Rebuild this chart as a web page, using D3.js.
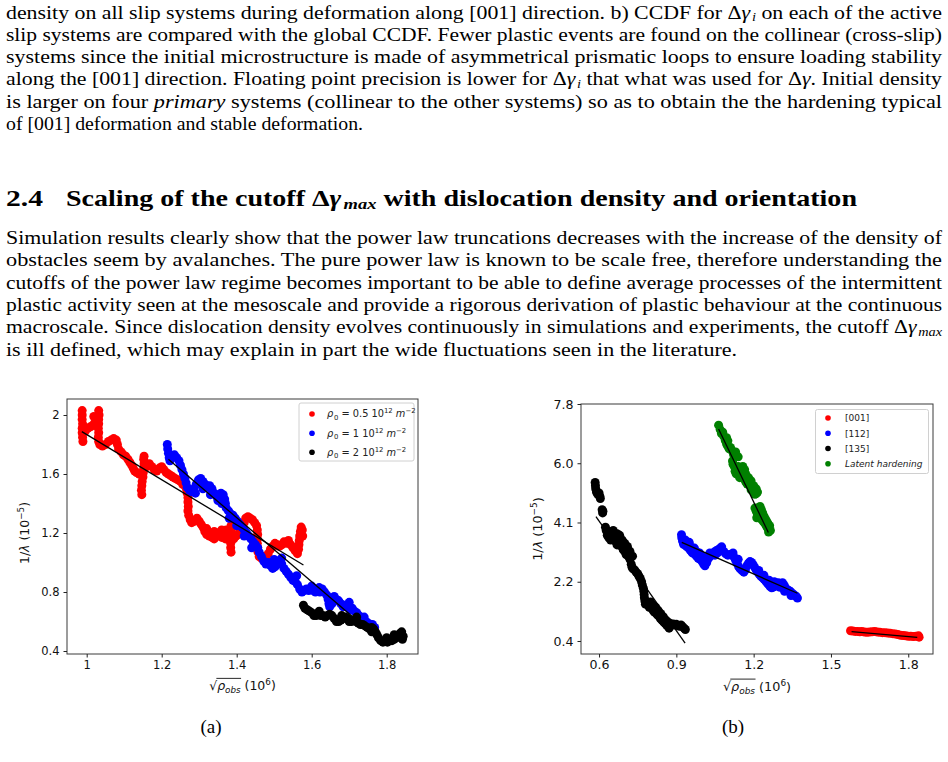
<!DOCTYPE html>
<html><head><meta charset="utf-8">
<script src="https://cdn.jsdelivr.net/npm/d3@7"></script>
<style>body{margin:0;background:#fff}svg{display:block}</style>
</head><body>
<svg id="page" width="948" height="762"></svg>
<script>
// ---------------- TEXT ----------------
const para1Lines = [
  "density on all slip systems during deformation along [001] direction. b) CCDF for Δ<i>γ</i><sub><i>i</i></sub> on each of the active",
  "slip systems are compared with the global CCDF. Fewer plastic events are found on the collinear (cross-slip)",
  "systems since the initial microstructure is made of asymmetrical prismatic loops to ensure loading stability",
  "along the [001] direction. Floating point precision is lower for Δ<i>γ</i><sub><i>i</i></sub> that what was used for Δ<i>γ</i>. Initial density",
  "is larger on four <i>primary</i> systems (collinear to the other systems) so as to obtain the the hardening typical",
  "of [001] deformation and stable deformation."
];
const headingNumber = "2.4";
const headingText = "Scaling of the cutoff Δ<i>γ</i><sub><i>max</i></sub> with dislocation density and orientation";
const para2Lines = [
  "Simulation results clearly show that the power law truncations decreases with the increase of the density of",
  "obstacles seem by avalanches. The pure power law is known to be scale free, therefore understanding the",
  "cutoffs of the power law regime becomes important to be able to define average processes of the intermittent",
  "plastic activity seen at the mesoscale and provide a rigorous derivation of plastic behaviour at the continuous",
  "macroscale. Since dislocation density evolves continuously in simulations and experiments, the cutoff Δ<i>γ</i><sub><i>max</i></sub>",
  "is ill defined, which may explain in part the wide fluctuations seen in the literature."
];
const captions = ["(a)", "(b)"];

// ---------------- CHART (a) DATA ----------------
const leftLegend = [
  "<i>ρ</i><sub>0</sub> = 0.5 10<sup>12</sup> <i>m</i><sup>−2</sup>",
  "<i>ρ</i><sub>0</sub> = 1 10<sup>12</sup> <i>m</i><sup>−2</sup>",
  "<i>ρ</i><sub>0</sub> = 2 10<sup>12</sup> <i>m</i><sup>−2</sup>"
];
const leftXTicks = [1, 1.2, 1.4, 1.6, 1.8];
const leftXTickLabels = ["1", "1.2", "1.4", "1.6", "1.8"];
const leftYTicks = [0.4, 0.8, 1.2, 1.6, 2.0];
const leftYTickLabels = ["0.4", "0.8", "1.2", "1.6", "2"];

const leftRed = [
 [0.988,2.03],[0.988,2.00],[0.988,1.97],[0.989,1.94],[0.988,1.91],[0.988,1.88],[0.989,1.85],[0.99,1.82],
 [0.996,1.89],[1.003,1.91],[1.01,1.92],[1.016,1.93],[1.022,1.95],[1.026,1.97],[1.019,1.99],
 [1.032,2.03],[1.033,2.00],[1.032,1.97],[1.032,1.94],[1.031,1.91],[1.032,1.88],[1.031,1.85],[1.032,1.82],
 [1.035,1.80],[1.042,1.79],[1.05,1.80],[1.058,1.82],[1.065,1.83],[1.072,1.84],[1.079,1.83],[1.082,1.80],
 [1.085,1.77],[1.092,1.75],[1.098,1.73],[1.104,1.72],[1.11,1.70],[1.115,1.68],[1.12,1.66],[1.124,1.64],[1.128,1.62],[1.133,1.61],[1.14,1.60],
 [1.147,1.46],[1.146,1.49],[1.147,1.52],[1.148,1.55],[1.15,1.58],[1.151,1.61],[1.152,1.64],[1.153,1.67],[1.152,1.70],[1.153,1.72],
 [1.16,1.65],[1.167,1.67],[1.174,1.65],[1.18,1.63],[1.187,1.62],[1.194,1.64],[1.20,1.65],[1.206,1.63],[1.212,1.61],[1.218,1.60],
 [1.224,1.59],[1.23,1.58],[1.236,1.57],[1.243,1.56],[1.25,1.55],[1.256,1.53],[1.262,1.52],[1.266,1.50],
 [1.268,1.47],[1.27,1.44],[1.27,1.41],[1.271,1.38],[1.27,1.35],
 [1.272,1.32],[1.276,1.29],[1.28,1.27],[1.287,1.28],[1.294,1.30],[1.30,1.28],[1.305,1.26],[1.31,1.24],[1.315,1.21],[1.32,1.19],
 [1.327,1.18],[1.334,1.17],[1.34,1.16],[1.347,1.18],[1.353,1.20],[1.36,1.22],[1.366,1.21],[1.372,1.22],[1.378,1.21],
 [1.32,1.23],[1.34,1.21],[1.36,1.17],[1.37,1.16],
 [1.385,1.25],[1.386,1.22],[1.386,1.19],[1.385,1.16],[1.384,1.13],[1.384,1.10],[1.385,1.07],
 [1.392,1.16],[1.398,1.18],[1.404,1.19],[1.41,1.21],[1.415,1.24],[1.42,1.27],[1.424,1.30],[1.43,1.31],[1.436,1.30],[1.442,1.29],[1.448,1.27],[1.453,1.25],
 [1.455,1.22],[1.456,1.19],[1.455,1.16],[1.455,1.13],[1.456,1.10],[1.457,1.07],[1.46,1.04],
 [1.466,1.03],[1.472,1.04],[1.478,1.03],[1.484,1.06],[1.49,1.09],[1.496,1.11],[1.502,1.13],[1.508,1.12],[1.514,1.11],[1.52,1.12],
 [1.526,1.14],[1.532,1.13],[1.538,1.15],[1.544,1.12],[1.55,1.10],[1.556,1.08],
 [1.562,1.06],[1.565,1.09],[1.566,1.12],[1.567,1.15],[1.568,1.18],[1.57,1.21],[1.572,1.24],[1.575,1.22],[1.576,1.18]
];
const leftBlue = [
 [1.215,1.80],[1.216,1.77],[1.218,1.74],[1.22,1.71],[1.222,1.69],
 [1.228,1.72],[1.234,1.73],[1.24,1.71],[1.246,1.69],[1.25,1.66],[1.254,1.63],[1.258,1.60],[1.262,1.57],[1.265,1.54],[1.268,1.51],
 [1.274,1.49],[1.28,1.48],[1.286,1.50],[1.292,1.53],[1.298,1.56],[1.304,1.57],[1.31,1.55],[1.316,1.53],[1.322,1.51],[1.328,1.52],
 [1.334,1.50],[1.34,1.47],[1.346,1.45],[1.352,1.46],[1.358,1.47],[1.364,1.46],
 [1.29,1.47],[1.31,1.50],[1.33,1.46],[1.35,1.42],[1.36,1.40],
 [1.368,1.43],[1.37,1.40],[1.372,1.37],
 [1.378,1.35],[1.384,1.33],[1.39,1.32],[1.396,1.30],[1.402,1.28],[1.408,1.26],[1.414,1.24],[1.42,1.22],[1.426,1.20],[1.432,1.18],
 [1.438,1.16],[1.444,1.14],[1.45,1.12],[1.456,1.10],
 [1.38,1.30],[1.40,1.25],[1.42,1.18],[1.44,1.10],
 [1.46,1.07],[1.466,1.04],[1.472,1.01],[1.478,0.99],[1.484,1.00],[1.49,0.98],[1.496,0.96],[1.502,0.97],[1.508,0.99],[1.514,1.01],
 [1.52,0.99],[1.526,0.96],[1.532,0.94],[1.538,0.92],
 [1.50,1.02],[1.52,1.03],
 [1.544,0.90],[1.55,0.88],[1.556,0.87],[1.562,0.85],[1.568,0.82],[1.574,0.80],
 [1.58,0.81],[1.586,0.82],[1.592,0.81],[1.598,0.82],[1.604,0.81],[1.61,0.80],[1.616,0.81],[1.622,0.80],[1.628,0.82],[1.634,0.80],[1.64,0.78],
 [1.56,0.91],[1.60,0.84],[1.62,0.83],
 [1.644,0.75],[1.646,0.72],[1.648,0.70],
 [1.654,0.72],[1.66,0.74],[1.666,0.75],[1.672,0.74],[1.678,0.72],[1.684,0.70],[1.69,0.71],[1.696,0.70],[1.702,0.68],[1.708,0.69],[1.714,0.67],[1.72,0.66],
 [1.66,0.77],[1.70,0.73],
 [1.726,0.64],[1.732,0.62],[1.738,0.61],[1.744,0.60],[1.75,0.59],[1.756,0.58],[1.762,0.58],[1.768,0.56],[1.74,0.63]
];
const leftBlack = [
 [1.578,0.71],[1.582,0.69],[1.588,0.68],[1.594,0.67],[1.60,0.66],[1.606,0.64],[1.612,0.64],[1.618,0.65],[1.624,0.64],[1.63,0.64],
 [1.636,0.63],[1.642,0.64],[1.648,0.65],[1.654,0.64],[1.66,0.62],[1.666,0.60],[1.672,0.60],[1.678,0.61],[1.684,0.62],[1.69,0.63],
 [1.696,0.62],[1.70,0.60],[1.706,0.60],[1.712,0.61],[1.718,0.60],[1.724,0.59],[1.73,0.58],[1.736,0.58],[1.742,0.57],[1.748,0.56],
 [1.754,0.55],[1.76,0.56],[1.765,0.55],[1.77,0.53],[1.774,0.51],[1.778,0.49],[1.784,0.47],[1.79,0.46],[1.796,0.47],[1.802,0.46],
 [1.808,0.47],[1.814,0.47],[1.82,0.48],[1.826,0.49],[1.832,0.50],[1.836,0.52],[1.84,0.53],[1.844,0.50],[1.842,0.48],
 [1.62,0.67],[1.68,0.64],[1.72,0.63],[1.76,0.53],[1.80,0.49],[1.82,0.51]
];
const leftRedFit = [[0.987,1.887],[1.578,0.983]];
const leftBlueFit = [[1.218,1.70],[1.77,0.50]];

// ---------------- CHART (b) DATA ----------------
const rightLegend = ["[001]", "[112]", "[135]", "<i>Latent hardening</i>"];
const rightXTicks = [0.6, 0.9, 1.2, 1.5, 1.8];
const rightXTickLabels = ["0.6", "0.9", "1.2", "1.5", "1.8"];
const rightYTicks = [0.4, 2.25, 4.1, 5.95, 7.8];
const rightYTickLabels = ["0.4", "2.2", "4.1", "6.0", "7.8"];

const right001 = [
 [1.576,0.72],[1.585,0.71],[1.594,0.70],[1.603,0.70],[1.612,0.69],[1.62,0.70],[1.63,0.68],[1.64,0.67],[1.65,0.68],[1.66,0.69],
 [1.67,0.70],[1.68,0.68],[1.69,0.67],[1.70,0.66],[1.71,0.66],[1.72,0.65],[1.73,0.64],[1.74,0.63],[1.75,0.62],[1.76,0.60],
 [1.77,0.58],[1.78,0.57],[1.79,0.56],[1.80,0.55],[1.81,0.55],[1.82,0.54],[1.83,0.55],[1.84,0.56],[1.842,0.52]
];
const right112 = [
 [0.92,3.72],[0.921,3.62],[0.924,3.52],[0.928,3.42],[0.933,3.40],[0.94,3.35],[0.945,3.42],[0.948,3.30],[0.955,3.22],[0.96,3.32],
 [0.962,3.15],[0.97,3.12],[0.978,3.05],[0.98,3.18],[0.985,2.98],[0.992,2.95],[1.0,2.88],[1.0,3.05],[1.006,2.80],[1.011,2.75],
 [1.018,2.85],[1.025,2.98],[1.032,3.05],[1.04,3.12],[1.048,3.18],[1.055,3.22],[1.062,3.25],[1.07,3.30],[1.076,3.34],
 [1.084,3.20],[1.092,3.12],[1.1,3.08],[1.108,3.10],[1.116,3.08],[1.124,3.02],[1.13,2.92],[1.136,2.82],[1.142,2.72],[1.148,2.65],
 [1.155,2.60],[1.162,2.55],[1.168,2.62],[1.174,2.75],[1.18,2.83],[1.186,2.88],[1.192,2.85],[1.198,2.78],[1.204,2.70],[1.21,2.62],
 [1.216,2.55],[1.222,2.48],[1.228,2.42],[1.234,2.38],[1.24,2.33],[1.246,2.28],[1.252,2.22],[1.258,2.16],[1.264,2.10],[1.27,2.06],
 [1.276,2.08],[1.282,2.12],[1.288,2.18],[1.294,2.22],[1.30,2.20],[1.306,2.15],[1.312,2.22],[1.318,2.15],[1.324,2.06],[1.33,2.0],
 [1.336,1.98],[1.342,1.95],[1.348,1.90],[1.354,1.86],[1.36,1.82],[1.366,1.78],[1.37,1.74],
 [0.935,3.55],[0.95,3.48],[0.97,3.30],[0.99,3.15],[1.03,3.15],[1.05,3.08],[1.06,3.15],[1.12,3.15],[1.14,2.95],[1.22,2.60],
 [1.24,2.45],[1.26,2.30],[1.28,2.25],[1.30,2.08],[1.32,1.95],[1.345,1.82]
];
const right135 = [
 [0.585,5.35],[0.586,5.25],[0.587,5.15],[0.59,5.05],[0.595,4.98],[0.60,5.02],[0.603,4.92],[0.605,4.85],
 [0.612,4.50],[0.614,4.40],[0.615,4.45],
 [0.625,3.95],[0.628,3.85],[0.632,3.70],[0.638,3.62],[0.645,3.55],[0.65,3.62],[0.656,3.70],[0.66,3.60],[0.665,3.50],[0.67,3.40],
 [0.675,3.55],[0.68,3.60],[0.685,3.45],[0.69,3.35],[0.694,3.25],[0.698,3.30],[0.70,3.20],[0.705,3.10],[0.71,3.15],[0.715,3.05],[0.72,2.95],
 [0.64,3.80],[0.655,3.85],[0.67,3.75],[0.68,3.70],[0.69,3.55],[0.70,3.45],[0.71,3.35],[0.72,3.20],[0.73,3.05],
 [0.725,2.80],[0.728,2.70],[0.732,2.65],[0.738,2.62],[0.744,2.55],[0.75,2.50],[0.755,2.42],[0.76,2.35],[0.765,2.25],[0.768,2.15],
 [0.772,2.05],[0.774,1.95],[0.775,1.85],[0.776,1.75],[0.778,1.65],[0.78,1.55],[0.786,1.62],[0.79,1.52],[0.795,1.45],[0.80,1.50],
 [0.805,1.42],[0.81,1.35],[0.815,1.30],[0.82,1.28],[0.826,1.22],[0.832,1.18],[0.838,1.10],[0.844,1.05],[0.85,1.00],[0.856,0.95],
 [0.862,0.90],[0.868,0.85],[0.872,0.80],[0.876,0.88],[0.882,0.92],[0.888,0.93],[0.894,0.90],[0.90,0.92],[0.906,0.88],[0.912,0.86],
 [0.918,0.90],[0.924,0.85],[0.93,0.80],[0.935,0.76],
 [0.80,1.62],[0.81,1.52],[0.82,1.45],[0.83,1.35],[0.84,1.25],[0.85,1.15],[0.86,1.05],[0.87,0.98]
];
const rightLatent = [
 [1.064,7.14],[1.07,7.0],[1.075,6.88],[1.08,6.92],[1.085,6.78],[1.09,6.66],[1.095,6.55],[1.1,6.48],[1.105,6.40],[1.11,6.44],
 [1.115,6.36],[1.12,6.30],[1.122,6.22],
 [1.118,6.02],[1.12,5.92],[1.125,5.85],[1.13,5.78],[1.128,5.70],[1.132,5.62],[1.138,5.66],[1.142,5.58],[1.146,5.50],[1.15,5.56],
 [1.155,5.72],[1.158,5.85],[1.16,5.62],[1.165,5.45],[1.17,5.36],[1.175,5.30],[1.18,5.38],[1.185,5.25],[1.19,5.12],[1.195,5.20],
 [1.20,5.05],[1.205,4.98],[1.21,5.0],
 [1.14,5.85],[1.15,5.80],[1.165,5.75],[1.17,5.60],[1.18,5.50],[1.19,5.40],[1.20,5.25],[1.21,5.15],[1.215,5.05],[1.14,6.15],[1.13,6.30],
 [1.095,6.75],[1.10,6.65],
 [1.205,4.55],[1.21,4.45],[1.215,4.35],[1.212,4.25],[1.22,4.28],[1.225,4.45],[1.23,4.50],[1.235,4.40],[1.24,4.30],[1.245,4.22],
 [1.238,4.12],[1.245,4.05],[1.25,3.98],[1.255,3.92],[1.26,3.88],[1.262,4.00],[1.265,3.85],[1.258,3.80],
 [1.23,4.20],[1.25,4.15],[1.255,4.08],[1.215,4.55],[1.225,4.60]
];
const right001Fit = [[1.58,0.69],[1.835,0.51]];
const right112Fit = [[0.921,3.48],[1.37,1.89]];
const right135Fit = [[0.588,4.28],[0.934,0.33]];
const rightLatentFit = [[1.064,7.02],[1.257,3.79]];

// ---------------- STYLE ----------------
const SERIF = "Liberation Serif, Times New Roman, serif";
const SANS = "DejaVu Sans, sans-serif";
const RED = "#ff0000", BLUE = "#0000ff", BLACK = "#000000", GREEN = "#008000";

const svg = d3.select("#page");
svg.append("rect").attr("width", 948).attr("height", 762).attr("fill", "#fff");

function rich(t, str, fs, subShift = 0.22) {
  const parts = str.split(/(<i>|<\/i>|<sub>|<\/sub>|<sup>|<\/sup>)/).filter(s => s !== "");
  let italic = false, shift = 0, cur = 0;
  parts.forEach(p => {
    if (p === "<i>") { italic = true; return; }
    if (p === "</i>") { italic = false; return; }
    if (p === "<sub>") { shift = subShift; return; }
    if (p === "<sup>") { shift = -0.4; return; }
    if (p === "</sub>" || p === "</sup>") { shift = 0; return; }
    const target = shift * fs;
    const ts = t.append("tspan").text(p);
    if (target !== cur) ts.attr("dy", target - cur);
    if (shift > 0 && cur === 0) ts.attr("dx", fs * 0.08);
    cur = target;
    if (italic) ts.attr("font-style", "italic");
    if (shift !== 0) ts.attr("font-size", fs * (shift > 0 && subShift < 0.2 ? 0.66 : 0.7));
  });
  return t;
}

function serifLine(x, y, str, fs, width, bold) {
  const t = svg.append("text").attr("x", x).attr("y", y)
    .attr("font-family", SERIF).attr("font-size", fs).attr("fill", "#000")
    .style("white-space", "pre");
  if (bold) t.attr("font-weight", "bold");
  rich(t, str, fs, 0.14);
  if (width) t.attr("textLength", width).attr("lengthAdjust", "spacingAndGlyphs");
  return t;
}

// Paragraph 1
const p1Base = [18.5, 40.8, 63.1, 85.4, 107.7, 130];
const p1Widths = [936, 936, 936, 936, 936, 357];
para1Lines.forEach((s, i) => serifLine(6, p1Base[i], s, 19, p1Widths[i]));
// Heading
serifLine(6, 206, headingNumber, 22.5, 37, true);
serifLine(66, 206, headingText, 22.5, 791, true);
// Paragraph 2
const p2Base = [244, 266.3, 288.6, 310.9, 333.2, 355.5];
const p2Widths = [936, 936, 936, 936, 936, 731];
para2Lines.forEach((s, i) => serifLine(6, p2Base[i], s, 19, p2Widths[i]));

// Captions
svg.append("text").attr("x", 211).attr("y", 733).attr("text-anchor", "middle")
  .attr("font-family", SERIF).attr("font-size", 19).text(captions[0]);
svg.append("text").attr("x", 733).attr("y", 733).attr("text-anchor", "middle")
  .attr("font-family", SERIF).attr("font-size", 19).text(captions[1]);

// ---------------- CHART BUILDER ----------------
function chart(cfg) {
  const g = svg.append("g");
  const x = d3.scaleLinear().domain(cfg.xDomain).range([cfg.left, cfg.right]);
  const y = d3.scaleLinear().domain(cfg.yDomain).range([cfg.bottom, cfg.top]);

  cfg.series.forEach(s => {
    g.append("g").selectAll("circle").data(s.data).join("circle")
      .attr("cx", d => x(d[0])).attr("cy", d => y(d[1])).attr("r", cfg.r).attr("fill", s.color);
  });
  const line = d3.line().x(d => x(d[0])).y(d => y(d[1]));
  cfg.fits.forEach(f => g.append("path").attr("d", line(f)).attr("stroke", "#000")
    .attr("stroke-width", 1.3).attr("fill", "none"));

  g.append("rect").attr("x", cfg.left).attr("y", cfg.top)
    .attr("width", cfg.right - cfg.left).attr("height", cfg.bottom - cfg.top)
    .attr("fill", "none").attr("stroke", "#3a3a3a").attr("stroke-width", 1);

  const ax = g.append("g").attr("transform", `translate(0,${cfg.bottom})`)
    .call(d3.axisBottom(x).tickValues(cfg.xTicks).tickFormat((d, i) => cfg.xTickLabels[i])
      .tickSize(3.5).tickPadding(3));
  const ay = g.append("g").attr("transform", `translate(${cfg.left},0)`)
    .call(d3.axisLeft(y).tickValues(cfg.yTicks).tickFormat((d, i) => cfg.yTickLabels[i])
      .tickSize(3.5).tickPadding(4));
  [ax, ay].forEach(a => {
    a.select(".domain").remove();
    a.attr("font-family", SANS).attr("font-size", cfg.tickFs);
    a.selectAll("line").attr("stroke", "#222");
    a.selectAll("text").attr("fill", "#111");
  });

  const yl = g.append("text").attr("transform", `translate(${cfg.yLabelX},${cfg.yLabelY}) rotate(-90)`)
    .attr("text-anchor", "middle").attr("font-family", SANS).attr("font-size", cfg.labelFs).attr("fill", "#111");
  rich(yl, "1/<i>λ</i> (10<sup>−5</sup>)", cfg.labelFs);

  const fs = cfg.labelFs;
  const cx = (cfg.left + cfg.right) / 2;
  const xl = g.append("text").attr("x", cx).attr("y", cfg.xLabelY)
    .attr("text-anchor", "middle").attr("font-family", SANS).attr("font-size", fs).attr("fill", "#111")
    .style("white-space", "pre");
  xl.append("tspan").text("√");
  xl.append("tspan").text("ρ").attr("font-style", "italic");
  xl.append("tspan").text("obs").attr("font-style", "italic").attr("font-size", fs * 0.7).attr("dy", fs * 0.25);
  xl.append("tspan").text(" (10").attr("dy", -fs * 0.25);
  xl.append("tspan").text("6").attr("font-size", fs * 0.7).attr("dy", -fs * 0.4);
  xl.append("tspan").text(")").attr("dy", fs * 0.4);
  const node = xl.node();
  try {
    const x1 = node.getEndPositionOfChar(0).x - 0.8;
    const x2 = node.getEndPositionOfChar(4).x + 0.5;
    g.append("line").attr("x1", x1).attr("x2", x2)
      .attr("y1", cfg.xLabelY - fs * 0.93).attr("y2", cfg.xLabelY - fs * 0.93)
      .attr("stroke", "#111").attr("stroke-width", 0.9);
  } catch (e) {}

  const L = cfg.legend;
  g.append("rect").attr("x", L.x).attr("y", L.y).attr("width", L.w).attr("height", L.h)
    .attr("rx", 2).attr("fill", "#fff").attr("fill-opacity", 0.85).attr("stroke", "#d0d0d0").attr("stroke-width", 1);
  L.labels.forEach((lab, i) => {
    const cy = L.rows[i];
    g.append("circle").attr("cx", L.mx).attr("cy", cy).attr("r", 2.8).attr("fill", cfg.series[i].color);
    const t = g.append("text").attr("x", L.tx).attr("y", cy + 3.4)
      .attr("font-family", SANS).attr("font-size", L.fs).attr("fill", "#222").style("white-space", "pre");
    rich(t, lab, L.fs);
  });
}

chart({
  left: 67, right: 418, top: 399, bottom: 654,
  xDomain: [0.9475, 1.8835], yDomain: [0.3797, 2.1085],
  xTicks: leftXTicks, xTickLabels: leftXTickLabels,
  yTicks: leftYTicks, yTickLabels: leftYTickLabels,
  tickFs: 11.5, labelFs: 12.5, r: 4.5,
  series: [{ data: leftRed, color: RED }, { data: leftBlue, color: BLUE }, { data: leftBlack, color: BLACK }],
  fits: [leftRedFit, leftBlueFit],
  yLabelX: 29, yLabelY: 533, xLabelY: 690,
  legend: { x: 299, y: 403, w: 115, h: 58, mx: 312, tx: 327, rows: [414, 433.3, 452.3], fs: 9.8, labels: leftLegend }
});

chart({
  left: 581, right: 933, top: 404, bottom: 654,
  xDomain: [0.530, 1.896], yDomain: [-0.006, 7.8],
  xTicks: rightXTicks, xTickLabels: rightXTickLabels,
  yTicks: rightYTicks, yTickLabels: rightYTickLabels,
  tickFs: 12.6, labelFs: 12.8, r: 4.5,
  series: [{ data: right001, color: RED }, { data: right112, color: BLUE }, { data: right135, color: BLACK }, { data: rightLatent, color: GREEN }],
  fits: [right001Fit, right112Fit, right135Fit, rightLatentFit],
  yLabelX: 542, yLabelY: 529, xLabelY: 691,
  legend: { x: 815.5, y: 409.5, w: 113, h: 64, mx: 828, tx: 845, rows: [418, 433.3, 448.5, 463.7], fs: 9, labels: rightLegend }
});
</script>
</body></html>
